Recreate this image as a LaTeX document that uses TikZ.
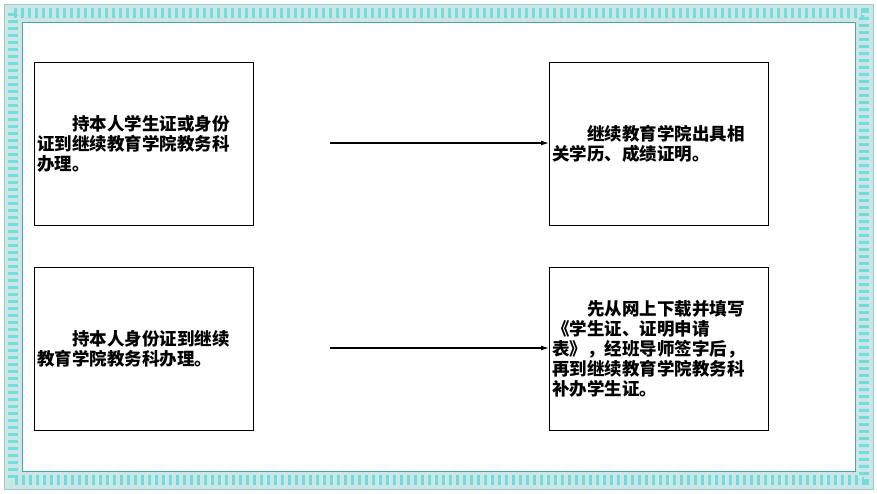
\documentclass[tikz,border=0pt]{standalone}
\usepackage{fontspec}
\newfontfamily\cjk{Noto Sans CJK SC}
\usetikzlibrary{arrows.meta}
\tikzset{
  box/.style={draw, line width=0.8pt, minimum width=219pt, minimum height=163pt,
    text width=213pt, align=left, inner sep=3pt, anchor=north west,
    font=\cjk\bfseries\fontsize{17.5pt}{20pt}\selectfont},
  link/.style={-{Latex[length=8pt,width=5pt]}, line width=1.2pt}
}
\begin{document}
\begin{tikzpicture}[x=1pt,y=-1pt]
\useasboundingbox (0,0) rectangle (877,493);
% frame
\fill[white] (0,0) rectangle (877,493);
\draw[line width=18pt, teal!20] (13,13) rectangle (864,480);
\draw[line width=10pt, teal!50!cyan!55, dash pattern=on 3pt off 4pt] (13,13) rectangle (864,480);
\draw[line width=4pt, white!80!teal, dash pattern=on 2pt off 5pt, dash phase=2pt] (13,13) rectangle (864,480);
\draw[line width=0.6pt, teal!70] (22,22) rectangle (855,471);
\draw[line width=0.6pt, teal!40] (4,4) rectangle (873,489);

% boxes
\node[box] (id) at (34,62) {\hspace*{2em}持本人学生证或身份\\证到继续教育学院教务科\\办理。};
\node[box] (cert) at (549,62) {\hspace*{2em}继续教育学院出具相\\关学历、成绩证明。};
\node[box] (card) at (34,267) {\hspace*{2em}持本人身份证到继续\\教育学院教务科办理。};
\node[box] (reissue) at (549,267) {\hspace*{2em}先从网上下载并填写\\《学生证、证明申请\\表》，经班导师签字后，\\再到继续教育学院教务科\\补办学生证。};

% arrows
\coordinate (a1) at (330,143);
\coordinate (a2) at (330,348);
\draw[link] (a1) -- (cert.west |- a1);
\draw[link] (a2) -- (reissue.west |- a2);
\end{tikzpicture}
\end{document}
